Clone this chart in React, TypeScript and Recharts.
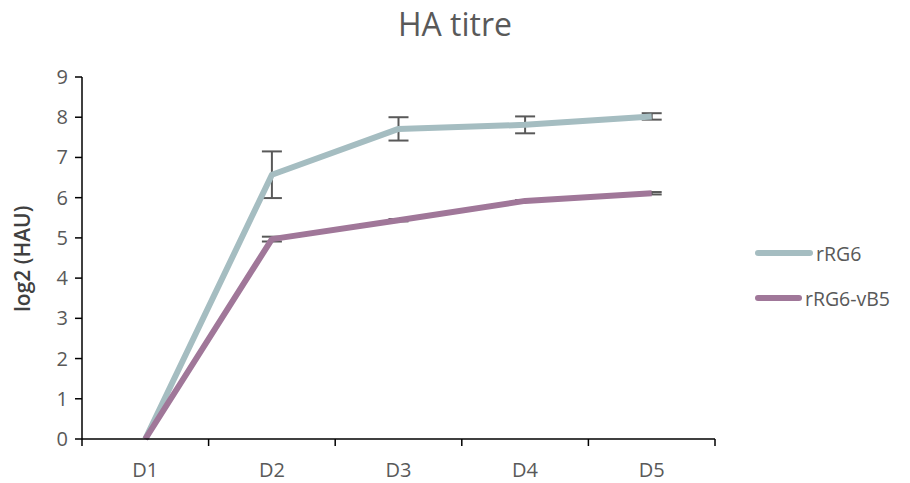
import React from 'react';
import { LineChart, Line, XAxis, YAxis, ErrorBar, Legend } from 'recharts';

const days = ['D1', 'D2', 'D3', 'D4', 'D5'];
const rRG6 = [0, 6.57, 7.71, 7.81, 8.02];
const rRG6Err = [0, 0.58, 0.29, 0.21, 0.08];
const rRG6vB5 = [0, 4.97, 5.44, 5.92, 6.11];
const rRG6vB5Err = [0, 0.06, 0.03, 0.02, 0.03];
const yTicks = [0, 1, 2, 3, 4, 5, 6, 7, 8, 9];
const xBoundaries = [0.5, 1.5, 2.5, 3.5, 4.5, 5.5];

const COLOR_A = '#a5bdc1';
const COLOR_B = '#a07799';
const TEXT = '#595959';
const FONT = "'Open Sans', sans-serif";

const data = days.map((d, i) => ({
  x: i + 1,
  name: d,
  rRG6: rRG6[i],
  errA: rRG6Err[i],
  vB5: rRG6vB5[i],
  errB: rRG6vB5Err[i],
}));

const series = [
  { name: 'rRG6', color: COLOR_A },
  { name: 'rRG6-vB5', color: COLOR_B },
];

// label sits half a category to the right of each boundary tick
const DayTick = (props: any) => {
  const { x, y, index } = props;
  if (index >= days.length) return null;
  const step = 633 / 5;
  return (
    <text x={x + step / 2} y={y + 29} textAnchor="middle" fill={TEXT} fontSize={20} fontFamily={FONT}>
      {days[index]}
    </text>
  );
};

const ValueTick = (props: any) => {
  const { x, y, payload } = props;
  return (
    <text x={x - 5} y={y + 7} textAnchor="end" fill={TEXT} fontSize={20} fontFamily={FONT}>
      {payload.value}
    </text>
  );
};

const LegendBox = () => (
  <div style={{ width: 175, paddingLeft: 40, paddingTop: 68, boxSizing: 'border-box', fontFamily: FONT }}>
    {series.map((s) => (
      <div key={s.name} style={{ display: 'flex', alignItems: 'center', height: 45, whiteSpace: 'nowrap' }}>
        <div style={{ width: 58, height: 6, borderRadius: 3, background: s.color, marginRight: 3 }} />
        <span style={{ fontSize: 19.5, color: TEXT }}>{s.name}</span>
      </div>
    ))}
  </div>
);

export default function App() {
  return (
    <div style={{ position: 'absolute', left: 0, top: 0, width: 910, height: 483, background: '#fff' }}>
      <div
        style={{
          position: 'absolute', top: 0, left: 0, width: 910, textAlign: 'center',
          fontFamily: FONT, fontSize: 32, color: TEXT, lineHeight: '48px',
        }}
      >
        HA titre
      </div>
      <LineChart width={910} height={483} data={data} margin={{ top: 77, right: 20, bottom: 14, left: 22 }}>
        <XAxis
          dataKey="x"
          type="number"
          domain={[0.5, 5.5]}
          ticks={xBoundaries}
          interval={0}
          tick={<DayTick />}
          tickSize={7}
          height={30}
          stroke="#000"
          strokeWidth={1.5}
          tickLine={{ stroke: '#000', strokeWidth: 1.5 }}
        />
        <YAxis
          domain={[0, 9]}
          ticks={yTicks}
          interval={0}
          width={60}
          tickSize={7}
          stroke="#000"
          strokeWidth={1.5}
          tick={<ValueTick />}
          label={{
            value: 'log2 (HAU)', angle: -90, position: 'insideLeft', offset: 1, dy: 54,
            style: { fill: '#404040', fontSize: 21, fontWeight: 600, fontFamily: FONT },
          }}
        />
        <Legend layout="vertical" align="right" verticalAlign="middle" content={<LegendBox />} />
        <Line
          dataKey="rRG6"
          name="rRG6"
          type="linear"
          stroke={COLOR_A}
          strokeWidth={6}
          strokeLinejoin="round"
          dot={false}
          isAnimationActive={false}
        >
          <ErrorBar dataKey="errA" width={10} stroke="#595959" strokeWidth={2} direction="y" />
        </Line>
        <Line
          dataKey="vB5"
          name="rRG6-vB5"
          type="linear"
          stroke={COLOR_B}
          strokeWidth={6}
          strokeLinejoin="round"
          dot={false}
          isAnimationActive={false}
        >
          <ErrorBar dataKey="errB" width={10} stroke="#595959" strokeWidth={2} direction="y" />
        </Line>
      </LineChart>
    </div>
  );
}
